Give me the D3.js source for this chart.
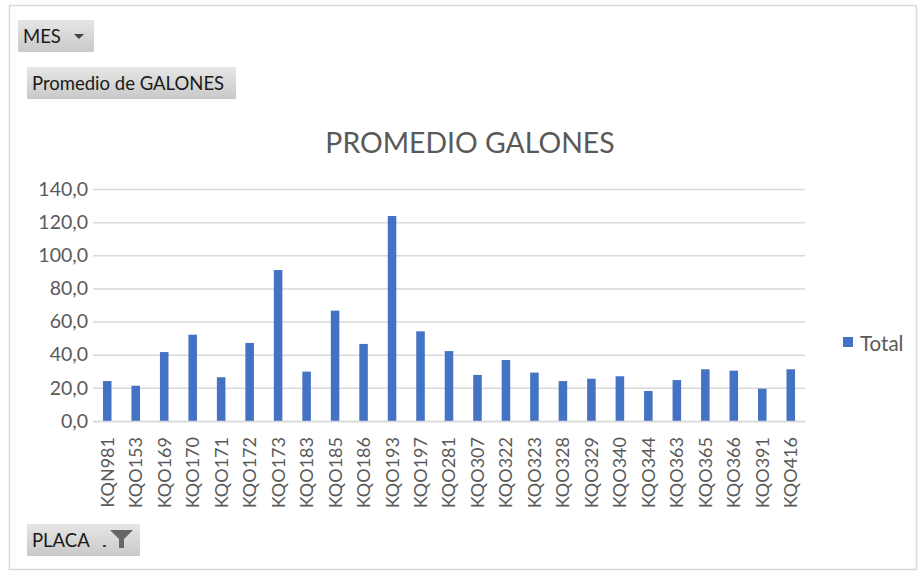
<!DOCTYPE html>
<html>
<head>
<meta charset="utf-8">
<script src="https://cdn.jsdelivr.net/npm/d3@7"></script>
<style>
    body { margin: 0; background: #fff; }
    svg { display: block; font-family: Lato, sans-serif; }
</style>
</head>
<body>
<svg id="chart" width="920" height="571"></svg>
<script>
// placas (categorias)
const placas = ["KQN981", "KQO153", "KQO169", "KQO170", "KQO171", "KQO172", "KQO173", "KQO183",
    "KQO185", "KQO186", "KQO193", "KQO197", "KQO281", "KQO307", "KQO322", "KQO323", "KQO328",
    "KQO329", "KQO340", "KQO344", "KQO363", "KQO365", "KQO366", "KQO391", "KQO416"];
// promedio de galones por placa
const galones = [24.1, 21.3, 41.6, 52.1, 26.4, 47.1, 91.1, 29.8, 66.6, 46.5, 123.7, 54.1, 42.2,
    27.8, 36.8, 29.2, 24.1, 25.5, 27.0, 18.1, 24.7, 31.2, 30.4, 19.5, 31.2];
const yTicks = [0, 20, 40, 60, 80, 100, 120, 140];
const titulo = "PROMEDIO GALONES";
const serie = "Total";

const cfg = {
    plot: { left: 93, right: 805, top: 189, bottom: 421 },
    bar: "#4472C4", grid: "#d9d9d9", text: "#595959",
    font: "Lato, sans-serif"
};

const svg = d3.select("#chart");

// marco exterior
svg.append("rect")
    .attr("x", 9.5).attr("y", 5.5).attr("width", 907).attr("height", 564)
    .attr("fill", "#fff").attr("stroke", "#d9d9d9").attr("stroke-width", 1.5);

// gradiente de botones
const grad = svg.append("defs").append("linearGradient")
    .attr("id", "btn").attr("x1", 0).attr("y1", 0).attr("x2", 0).attr("y2", 1);
grad.append("stop").attr("offset", "0%").attr("stop-color", "#e6e6e6");
grad.append("stop").attr("offset", "100%").attr("stop-color", "#c9c9c9");

function boton(x, y, w, h, label) {
    const g = svg.append("g").attr("transform", `translate(${x},${y})`);
    g.append("rect").attr("width", w).attr("height", h).attr("fill", "url(#btn)");
    g.append("text").attr("x", 5).attr("y", h / 2 + 6.5)
        .attr("font-size", 18.5).attr("fill", "#1a1a1a").text(label);
    return g;
}

const mes = boton(18, 20, 76, 32, "MES");
mes.append("path").attr("d", "M56,14 L66,14 L61,19 Z").attr("fill", "#444");

boton(27, 67, 209, 32, "Promedio de GALONES");

const placa = boton(27, 524, 113, 32, "PLACA");
placa.append("rect").attr("x", 76).attr("y", 21).attr("width", 3).attr("height", 2).attr("fill", "#444");
placa.append("path").attr("d", "M83,6 L106,6 L97,15 L97,24 L92,24 L92,15 Z").attr("fill", "#666");

// titulo
svg.append("text")
    .attr("x", 470).attr("y", 153).attr("text-anchor", "middle")
    .attr("font-size", 28.4).attr("fill", cfg.text).text(titulo);

// escalas
const x = d3.scaleBand()
    .domain(placas)
    .range([cfg.plot.left, cfg.plot.right])
    .paddingInner(0.7).paddingOuter(0.35);

const y = d3.scaleLinear()
    .domain([0, 140])
    .range([cfg.plot.bottom, cfg.plot.top]);

const fmt = d => d3.format(".1f")(d).replace(".", ",");

// eje Y con lineas de cuadricula
svg.append("g")
    .attr("transform", `translate(${cfg.plot.left},0)`)
    .call(d3.axisLeft(y).tickValues(yTicks).tickFormat(fmt)
        .tickSize(-(cfg.plot.right - cfg.plot.left)).tickPadding(5))
    .call(g => g.select(".domain").remove())
    .call(g => g.selectAll("line").attr("stroke", cfg.grid).attr("stroke-width", 1.5))
    .call(g => g.selectAll("text").attr("font-size", 19.5).attr("fill", cfg.text)
        .attr("font-family", cfg.font));

// barras
svg.append("g").selectAll("rect")
    .data(galones)
    .join("rect")
    .attr("x", (d, i) => x(placas[i]))
    .attr("width", x.bandwidth())
    .attr("y", d => y(d))
    .attr("height", d => y(0) - y(d))
    .attr("fill", cfg.bar);

// eje X
svg.append("g")
    .attr("transform", `translate(0,${cfg.plot.bottom})`)
    .call(d3.axisBottom(x).tickSize(0))
    .call(g => g.select(".domain").attr("stroke", cfg.grid).attr("stroke-width", 1.5))
    .call(g => g.selectAll("text")
        .attr("transform", "rotate(-90)")
        .attr("text-anchor", "end")
        .attr("dx", "-16").attr("dy", "0.36em")
        .attr("x", 0).attr("y", 0)
        .attr("font-size", 18).attr("fill", cfg.text)
        .attr("font-family", cfg.font));

// leyenda
const leg = svg.append("g").attr("transform", "translate(843,337)");
leg.append("rect").attr("width", 10).attr("height", 10).attr("fill", cfg.bar);
leg.append("text").attr("x", 17).attr("y", 14).attr("font-size", 20.5)
    .attr("fill", cfg.text).attr("font-family", cfg.font).text(serie);
</script>
</body>
</html>
